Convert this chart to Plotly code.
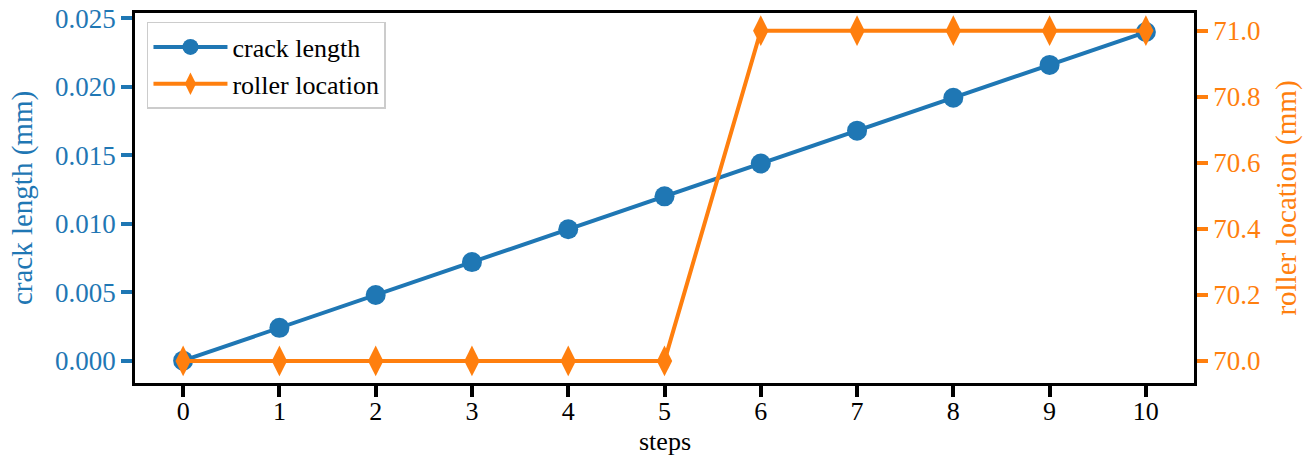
import plotly.graph_objects as go

steps = [0, 1, 2, 3, 4, 5, 6, 7, 8, 9, 10]
crack_length = [0.0, 0.0024, 0.0048, 0.0072, 0.0096, 0.0120,
                0.0144, 0.0168, 0.0192, 0.0216, 0.0240]
roller_location = [70.0, 70.0, 70.0, 70.0, 70.0, 70.0,
                   71.0, 71.0, 71.0, 71.0, 71.0]

BLUE = "#1f77b4"
ORANGE = "#ff7f0e"
FONT = "Liberation Serif"

fig = go.Figure()
fig.add_trace(go.Scatter(
    x=steps, y=crack_length, name="crack length", mode="lines+markers",
    line=dict(color=BLUE, width=4),
    marker=dict(symbol="circle", size=20, color=BLUE),
    yaxis="y",
))
fig.add_trace(go.Scatter(
    x=steps, y=roller_location, name="roller location", mode="lines+markers",
    line=dict(color=ORANGE, width=4),
    marker=dict(symbol="diamond-tall", size=22, color=ORANGE),
    yaxis="y2",
))

fig.update_layout(
    width=1313, height=457,
    margin=dict(l=135, r=119, t=13, b=74, autoexpand=False),
    plot_bgcolor="white", paper_bgcolor="white",
    font=dict(family=FONT, size=26, color="black"),
    showlegend=True,
    legend=dict(
        x=0.0113, y=0.9757, xanchor="left", yanchor="top",
        bgcolor="rgba(255,255,255,0.8)", bordercolor="#cccccc", borderwidth=1.5,
        font=dict(family=FONT, size=26, color="black"),
        itemsizing="trace", itemwidth=74, tracegroupgap=0,
    ),
    xaxis=dict(
        range=[-0.5, 10.5], tickmode="array", tickvals=steps,
        ticktext=[str(s) for s in steps],
        showgrid=False, zeroline=False, automargin=False,
        showline=True, linecolor="black", linewidth=2.5, mirror=True,
        ticks="outside", ticklen=11, tickwidth=3.5, tickcolor="black",
        ticklabelstandoff=-8,
        tickfont=dict(family=FONT, size=26, color="black"),
    ),
    yaxis=dict(
        range=[-0.00163, 0.02539], tick0=0, dtick=0.005, tickformat=".3f",
        showgrid=False, zeroline=False, automargin=False,
        showline=True, linecolor="black", linewidth=2.5,
        ticks="outside", ticklen=11, tickwidth=3.5, tickcolor=BLUE,
        tickfont=dict(family=FONT, size=27, color=BLUE),
        title=dict(text="crack length (mm)", font=dict(family=FONT, size=29, color=BLUE), standoff=14),
    ),
    yaxis2=dict(
        overlaying="y", side="right",
        range=[69.933, 71.0536], tick0=70, dtick=0.2, tickformat=".1f",
        showgrid=False, zeroline=False, automargin=False,
        showline=True, linecolor="black", linewidth=2.5,
        ticks="outside", ticklen=11, tickwidth=3.5, tickcolor=ORANGE,
        tickfont=dict(family=FONT, size=27, color=ORANGE),
        title=dict(text="roller location (mm)", font=dict(family=FONT, size=29, color=ORANGE), standoff=16),
    ),
    annotations=[dict(
        text="steps", xref="paper", yref="paper", x=0.5, y=-0.158,
        xanchor="center", yanchor="middle", showarrow=False,
        font=dict(family=FONT, size=26, color="black"),
    )],
)

fig.write_html("out.html")
